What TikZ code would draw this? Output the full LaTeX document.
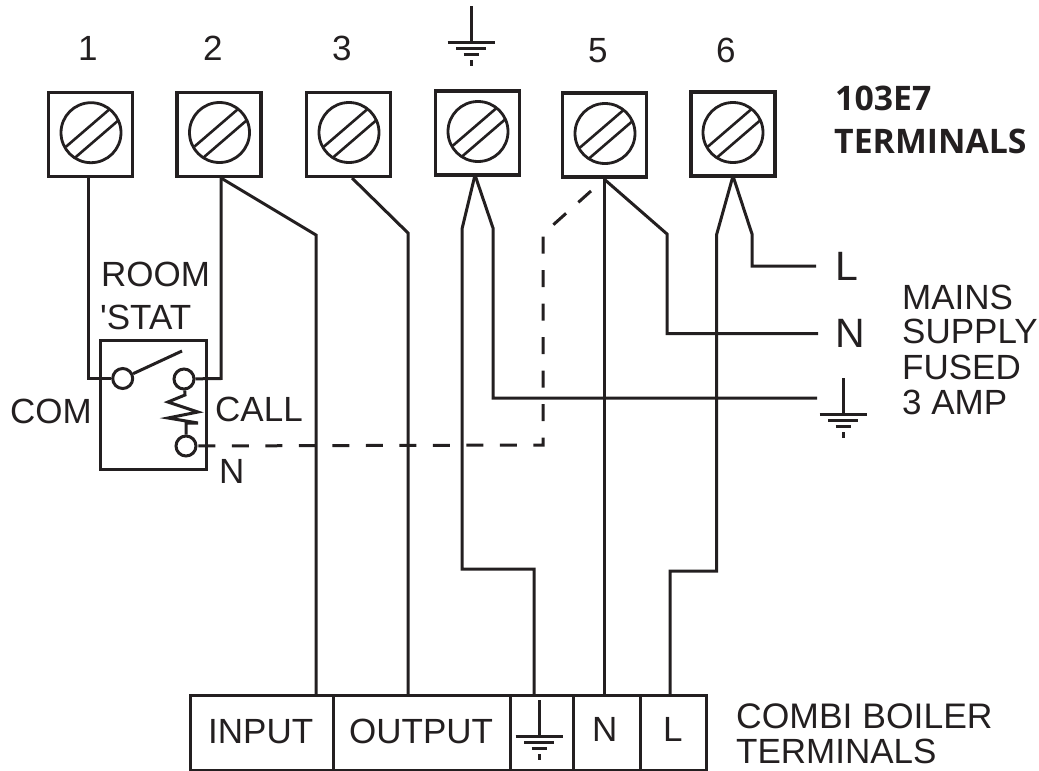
\documentclass[tikz,border=0pt]{standalone}
\usepackage{fontspec}
\setmainfont{Liberation Sans}
\newfontfamily\straightf{Liberation Sans}
\newfontfamily\boldlab{Open Sans}
\definecolor{ink}{HTML}{231F20}
\tikzset{
  wire/.style={draw=ink,line width=3pt,line cap=butt,line join=miter},
  dashwire/.style={wire,dash pattern=on 17pt off 16.5pt},
  termbox/.style={draw=ink,line width=3.3pt,minimum size=84pt,inner sep=0pt,rectangle},
  screwhead/.style={draw=ink,line width=2.8pt,circle,minimum size=60pt,inner sep=0pt},
  contact/.style={draw=ink,fill=white,line width=3pt,circle,minimum size=20pt,inner sep=0pt},
  lab/.style={anchor=base west,inner sep=0pt,text=ink,font=\fontsize{35}{35}\selectfont},
  biglab/.style={lab,font=\fontsize{41}{41}\selectfont},
  boldl/.style={anchor=base west,inner sep=0pt,text=ink,font=\boldlab\bfseries\fontsize{33.8}{34}\selectfont},
  cell/.style={draw=ink,line width=3.2pt,rectangle,minimum height=75pt,inner sep=0pt}
}
\newcommand{\slots}[1]{%
  \draw[wire,line width=2.6pt] ([shift={(-25pt,-14pt)}]#1.center) -- ([shift={(18pt,23pt)}]#1.center);
  \draw[wire,line width=2.6pt] ([shift={(-16pt,-25pt)}]#1.center) -- ([shift={(27pt,12pt)}]#1.center);
}
\newcommand{\earth}[2]{% x, y of the top of the stem
  \draw[wire] (#1,#2) -- ++(0,36);
  \draw[wire] (#1-23.5,#2+36) -- ++(47,0);
  \draw[wire] (#1-15,#2+42.5) -- ++(30,0);
  \draw[wire] (#1-7.5,#2+48.5) -- ++(15,0);
  \draw[wire] (#1,#2+54) -- ++(0,6);
}
\begin{document}
\begin{tikzpicture}[x=1pt,y=-1pt]
\useasboundingbox (0,0) rectangle (1039,771);
% terminal boxes
\node[termbox] (t1) at (90.5,134.5) {};
\node[termbox] (t2) at (219,134.5) {};
\node[termbox] (t3) at (348.5,134.5) {};
\node[termbox] (t4) at (477.5,133) {};
\node[termbox] (t5) at (604.5,135) {};
\node[termbox] (t6) at (733,134) {};
\node[screwhead] (s1) at (91,132.7) {};
\node[screwhead] (s2) at (219.5,132.5) {};
\node[screwhead] (s3) at (349,132.5) {};
\node[screwhead] (s4) at (478,131.5) {};
\node[screwhead] (s5) at (605,133.5) {};
\node[screwhead] (s6) at (733,132.5) {};
\slots{s1}\slots{s2}\slots{s3}\slots{s4}\slots{s5}\slots{s6}
% numbers
\node[lab] at (78,60) {1};
\node[lab] at (203,60) {2};
\node[lab] at (332,60) {3};
\node[lab] at (588,62) {5};
\node[lab] at (716,62) {6};
\earth{471}{6}
\earth{843}{378}
% room stat
\node[draw=ink,line width=3pt,rectangle,minimum width=106pt,minimum height=129pt,inner sep=0pt] (stat) at (153,404.5) {};
\coordinate (w1b) at (88,378.5);
\coordinate (w2b) at (221,378.5);
\coordinate (w2c) at (316,235);
\coordinate (w3c) at (408,233);
\coordinate (a2) at (221,178);
\coordinate (a3) at (352,178);
\coordinate (a5) at (604,179);
\coordinate (a4) at (475,175);
\coordinate (a6) at (733,176);
\coordinate (a1) at (88,178);
\node[contact] (com) at (122.7,378.5) {};
\node[contact] (call) at (184,379) {};
\node[contact] (neu) at (186,446) {};
\coordinate (arm) at (182,351);
\draw[wire] (com) -- (arm);
\draw[wire] (call) -- (185,395) -- (168,402) -- (198,412) -- (168,418) -- (198,423) -- (186,423) -- (neu);
% wires
\draw[wire] (a1) -- (w1b) -- (com);
\draw[wire] (a2) -- (w2b) -- (call);
% boiler
\node[cell,minimum width=143pt,anchor=north west] (inp) at (189,694) {};
\node[cell,minimum width=177pt,anchor=north west] (out) at (332,694) {};
\node[cell,minimum width=63pt,anchor=north west] (ear) at (509,694) {};
\node[cell,minimum width=67pt,anchor=north west] (bn) at (572,694) {};
\node[cell,minimum width=66pt,anchor=north west] (bl) at (639,694) {};
\coordinate (binp) at (316,694);
\coordinate (bout) at (408,694);
\coordinate (bear) at (534,694);
\coordinate (bnn) at (604,694);
\coordinate (bll) at (670,694);
\draw[wire] (a2) -- (w2c) -- (binp);
\draw[wire] (a3) -- (w3c) -- (bout);
\draw[wire] (a4) -- (462,229) -- (462,569) -- (534,569) -- (bear);
\coordinate (gnd) at (817,398);
\draw[wire] (a4) -- (493,228) -- (493,398) -- (gnd);
\draw[wire] (a5) -- (bnn);
\coordinate (nend) at (818,333.5);
\draw[wire] (a5) -- (667,234) -- (667,333.5) -- (nend);
\draw[wire] (a6) -- (716.5,235) -- (716.5,571) -- (670,571) -- (bll);
\coordinate (lend) at (816,266);
\draw[wire] (a6) -- (752,234) -- (752,266) -- (lend);
\coordinate (dstart) at (591,191);
\draw[dashwire] (dstart) -- (543,234) -- (543,445) -- (neu);
\earth{539}{700}
% labels
\node[lab] at (101,286) {ROOM};
\node[lab] at (100,329) {{\straightf'}STAT};
\node[lab] at (10,423) {COM};
\node[lab] at (215,421) {CALL};
\node[lab] at (219,483) {N};
\node[biglab] at (835,280) {L};
\node[biglab] at (835,347) {N};
\node[lab] at (902,309) {MAINS};
\node[lab] at (902,343) {SUPPLY};
\node[lab] at (902,379) {FUSED};
\node[lab] at (902,414) {3 AMP};
\node[boldl] at (835,110) {103E7};
\node[boldl] at (834,153) {TERMINALS};
\node[lab] at (208,743) {INPUT};
\node[lab] at (349,743) {OUTPUT};
\node[lab] at (592,741) {N};
\node[lab] at (663,741) {L};
\node[lab,font=\fontsize{35.5}{36}\selectfont] at (736,728) {COMBI BOILER};
\node[lab] at (736,763) {TERMINALS};
\end{tikzpicture}
\end{document}
